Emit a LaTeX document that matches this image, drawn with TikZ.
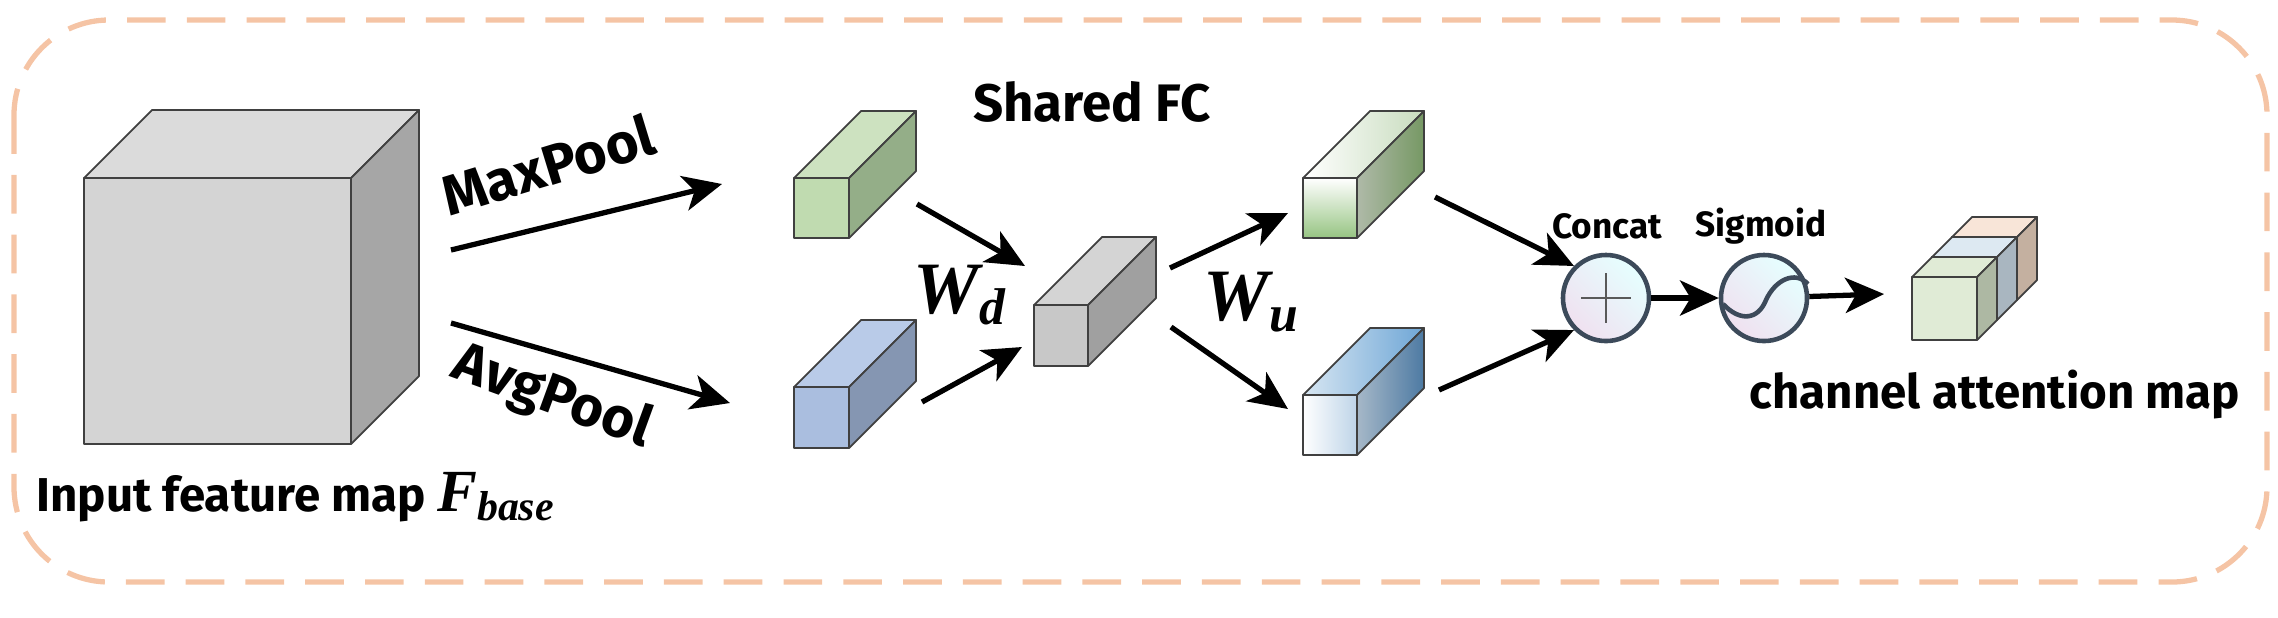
\documentclass[tikz,border=0pt]{standalone}
\usepackage{fontspec}
\setmainfont{Fira Sans}
\newfontfamily\wf{Liberation Serif}
\usetikzlibrary{arrows.meta}
\definecolor{dashc}{HTML}{F5C4A5}
\definecolor{edge}{HTML}{404040}
\definecolor{ringc}{HTML}{3C4A5A}
\newcommand\bvar[2]{{\wf\bfseries\itshape #1$_{\hbox{\wf\bfseries\itshape\fontsize{0.7em}{1em}\selectfont #2}}$}}
\tikzset{
  conn/.style={line width=1.5pt,-{Stealth[length=11pt,width=10pt,inset=3pt]}},
  face/.style={draw=edge,line width=0.5pt,line join=round},
  lbl/.style={font=\fontsize{13.5}{16}\selectfont\bfseries,inner sep=0pt},
  pool/.style={font=\fontsize{16}{18}\selectfont\bfseries,inner sep=0pt},
  small/.style={font=\fontsize{10}{12}\selectfont\bfseries,inner sep=0pt},
  wlab/.style={font=\fontsize{21}{23}\selectfont,inner sep=0pt},
  op/.style={circle,draw=ringc,line width=1.3pt,minimum size=0.86cm,inner sep=0pt,
     left color=violet!12,right color=cyan!10,shading angle=135},
}
\newcommand\mycuboid[8]{%
  \path[face,#6] (#1,#2) rectangle (#3,#4);
  \path[face,#7] (#1,#2) -- ++(#5,-#5) -- (#3+#5,#2-#5) -- (#3,#2) -- cycle;
  \path[face,#8] (#3,#2) -- (#3+#5,#2-#5) -- (#3+#5,#4-#5) -- (#3,#4) -- cycle;
}
\begin{document}
\begin{tikzpicture}[x=0.01cm,y=-0.01cm]
\useasboundingbox (0,0) rectangle (2278,617);
\draw[dashc,line width=1.5pt,dash pattern=on 11pt off 6pt,rounded corners=0.95cm]
  (14,20) rectangle (2267,582);

\mycuboid{84}{178}{351}{444}{68}{fill={rgb,255:red,212;green,212;blue,212}}{fill={rgb,255:red,219;green,219;blue,219}}{fill={rgb,255:red,166;green,166;blue,166}}
\mycuboid{794}{178}{849}{238}{67}{fill={rgb,255:red,192;green,219;blue,176}}{fill={rgb,255:red,205;green,226;blue,192}}{fill={rgb,255:red,148;green,174;blue,136}}
\mycuboid{794}{387}{849}{448}{67}{fill={rgb,255:red,170;green,190;blue,223}}{fill={rgb,255:red,185;green,203;blue,232}}{fill={rgb,255:red,133;green,150;blue,178}}
\mycuboid{1034}{305}{1088}{366}{68}{fill={rgb,255:red,200;green,200;blue,200}}{fill={rgb,255:red,212;green,212;blue,212}}{fill={rgb,255:red,160;green,160;blue,160}}
\mycuboid{1303}{178}{1357}{238}{67}{top color=white,bottom color={rgb,255:red,150;green,196;blue,130}}{left color=white,right color={rgb,255:red,200;green,220;blue,190}}{left color={rgb,255:red,175;green,186;blue,168},right color={rgb,255:red,118;green,152;blue,100}}
\mycuboid{1303}{395}{1357}{455}{67}{left color=white,right color={rgb,255:red,190;green,212;blue,232}}{left color={rgb,255:red,215;green,230;blue,242},right color={rgb,255:red,110;green,166;blue,214}}{left color={rgb,255:red,166;green,184;blue,200},right color={rgb,255:red,77;green,122;blue,163}}

\mycuboid{1952}{237}{2017}{300}{20}{fill={rgb,255:red,248;green,229;blue,216}}{fill={rgb,255:red,248;green,229;blue,216}}{fill={rgb,255:red,196;green,176;blue,160}}
\mycuboid{1932}{257}{1997}{320}{20}{fill={rgb,255:red,221;green,233;blue,242}}{fill={rgb,255:red,221;green,233;blue,242}}{fill={rgb,255:red,169;green,182;blue,192}}
\mycuboid{1912}{277}{1977}{340}{20}{fill={rgb,255:red,224;green,235;blue,214}}{fill={rgb,255:red,224;green,235;blue,214}}{fill={rgb,255:red,173;green,184;blue,163}}

\node[op] (concat) at (1606,298) {};
\draw[gray!70!black,line width=0.8pt] (1581,298) -- (1631,298) (1606,273) -- (1606,323);
\node[op] (sigm) at (1764,298) {};
\draw[ringc,line width=1.3pt] (1723,304) .. controls (1740,322) and (1758,320) .. (1766,300)
  .. controls (1775,280) and (1795,270) .. (1808,284);

\node[lbl] (tin) at (296,497) {Input feature map {\fontsize{17}{18}\selectfont\bvar{F}{base}}};
\node[pool,rotate=17] (tmax) at (548,165) {MaxPool};
\node[pool,rotate=-20] (tavg) at (552,398) {AvgPool};
\node[font=\fontsize{15}{17}\selectfont\bfseries,inner sep=0pt] (tfc) at (1092,102) {Shared FC};
\node[wlab] (twd) at (960,295) {\bvar{W}{d}};
\node[wlab] (twu) at (1252,302) {\bvar{W}{u}};
\node[small] (tcc) at (1607,226) {Concat};
\node[small] (tsg) at (1761,226) {Sigmoid};
\node[font=\fontsize{13.5}{15}\selectfont\bfseries,inner sep=0pt] (tcam) at (1995,395) {channel attention map};

\coordinate (m0) at (451,250); \coordinate (m1) at (722,184);
\coordinate (a0) at (451,323); \coordinate (a1) at (730,403);
\coordinate (g1o) at (917,204); \coordinate (fcin1) at (1025,266);
\coordinate (b1o) at (922,402); \coordinate (fcin2) at (1022,347);
\coordinate (fco1) at (1170,268); \coordinate (g2i) at (1288,213);
\coordinate (fco2) at (1171,327); \coordinate (b2i) at (1288,409);
\coordinate (g2o) at (1435,197); \coordinate (b2o) at (1439,390);
\coordinate (outc) at (1884,294);
\draw[conn] (m0) -- (m1);
\draw[conn] (a0) -- (a1);
\draw[conn] (g1o) -- (fcin1);
\draw[conn] (b1o) -- (fcin2);
\draw[conn] (fco1) -- (g2i);
\draw[conn] (fco2) -- (b2i);
\draw[conn] (g2o) -- (concat.north west);
\draw[conn] (b2o) -- (concat.south west);
\draw[conn] (concat) -- (sigm);
\draw[conn] (sigm) -- (outc);
\end{tikzpicture}
\end{document}
